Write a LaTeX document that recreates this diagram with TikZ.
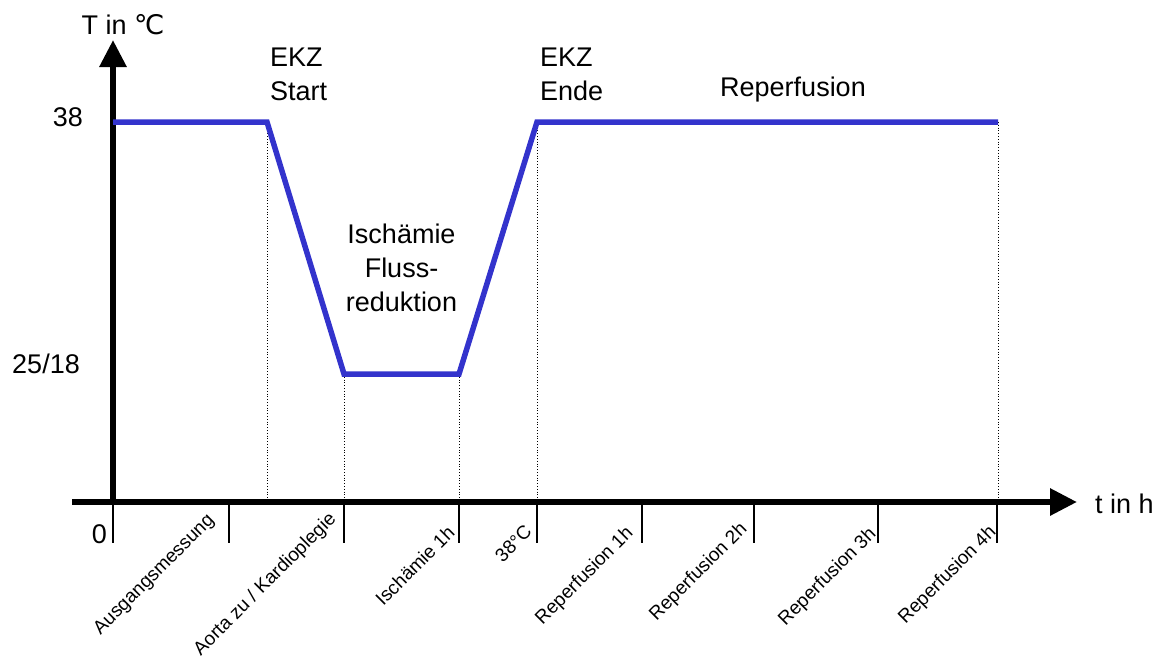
\documentclass[tikz,border=0pt]{standalone}
\usepackage{fontspec}
\setmainfont{Liberation Sans}
\newfontfamily\symfont{DejaVu Sans}
\usetikzlibrary{arrows.meta}
\definecolor{curveblue}{RGB}{51, 51, 204}

\tikzset{
  axisline/.style={line width=6pt, -{Triangle[length=27pt, width=26pt]}},
  tickline/.style={line width=1.5pt},
  guideline/.style={line width=0.8pt, dotted},
  tempcurve/.style={curveblue, line width=5.5pt, line join=miter},
  biglabel/.style={font=\fontsize{27}{34}\selectfont, inner sep=0pt},
  ticklabel/.style={font=\fontsize{19}{22}\selectfont, inner sep=0pt, rotate=45, anchor=base east}
}

\begin{document}
\begin{tikzpicture}[x=1pt, y=-1pt]
    \useasboundingbox (0,0) rectangle (1165,657);
    % === Curve points ===
    \coordinate (origin) at (113,502);
    \coordinate (c0) at (113,122);
    \coordinate (c1) at (267,122);
    \coordinate (c2) at (344,374);
    \coordinate (c3) at (459,374);
    \coordinate (c4) at (537,122);
    \coordinate (c5) at (998,122);
    % Dotted guides down to the time axis
    \foreach \c in {c1,c2,c3,c4,c5}
      \draw[guideline] (\c) -- (\c |- origin);
    % === Axes ===
    \coordinate (xstart) at (72,502);
    \coordinate (xend) at (1077,502);
    \coordinate (yend) at (113,40);
    \draw[axisline] (xstart) -- (xend);
    \draw[axisline] ([yshift=3pt]origin) -- (yend);
    % Ticks below the time axis
    \foreach \tx in {113,229,344,459,537,642,754,878,997}
      \draw[tickline] (\tx,505) -- (\tx,543);
    % === Temperature curve ===
    \draw[tempcurve] (c0) -- (c1) -- (c2) -- (c3) -- (c4) -- (c5);
    % Axis labels
    \node[biglabel, anchor=base] (ylab) at (123,34) {T in {\symfont ℃}};
    \node[biglabel, anchor=base west] (xlab) at (1095,513) {t in h};
    \node[biglabel, anchor=base east] (y38) at (83,126) {38};
    \node[biglabel, anchor=base east] (y25) at (80,373) {25/18};
    \node[biglabel, anchor=base east] (zero) at (107,543) {0};
    % Phase labels
    \node[biglabel, anchor=north west, align=left] (start) at (270,48) {EKZ\\Start};
    \node[biglabel, anchor=north west, align=left] (ende) at (540,48) {EKZ\\Ende};
    \node[biglabel, anchor=base] (reperf) at (793,96) {Reperfusion};
    \node[biglabel, anchor=north, align=center] (isch) at (401.5,224) {Ischämie\\Fluss-\\reduktion};
    % Time point labels
    \node[ticklabel] (t0) at (215,521) {Ausgangsmessung};
    \node[ticklabel] (t1) at (337,520) {Aorta zu / Kardioplegie};
    \node[ticklabel] (t2) at (456,534) {Ischämie 1h};
    \node[ticklabel] (t3) at (533,533) {38°C};
    \node[ticklabel] (t4) at (634,534) {Reperfusion 1h};
    \node[ticklabel] (t5) at (748,530) {Reperfusion 2h};
    \node[ticklabel] (t6) at (877,535) {Reperfusion 3h};
    \node[ticklabel] (t7) at (997,533) {Reperfusion 4h};
  \end{tikzpicture}
\end{document}
